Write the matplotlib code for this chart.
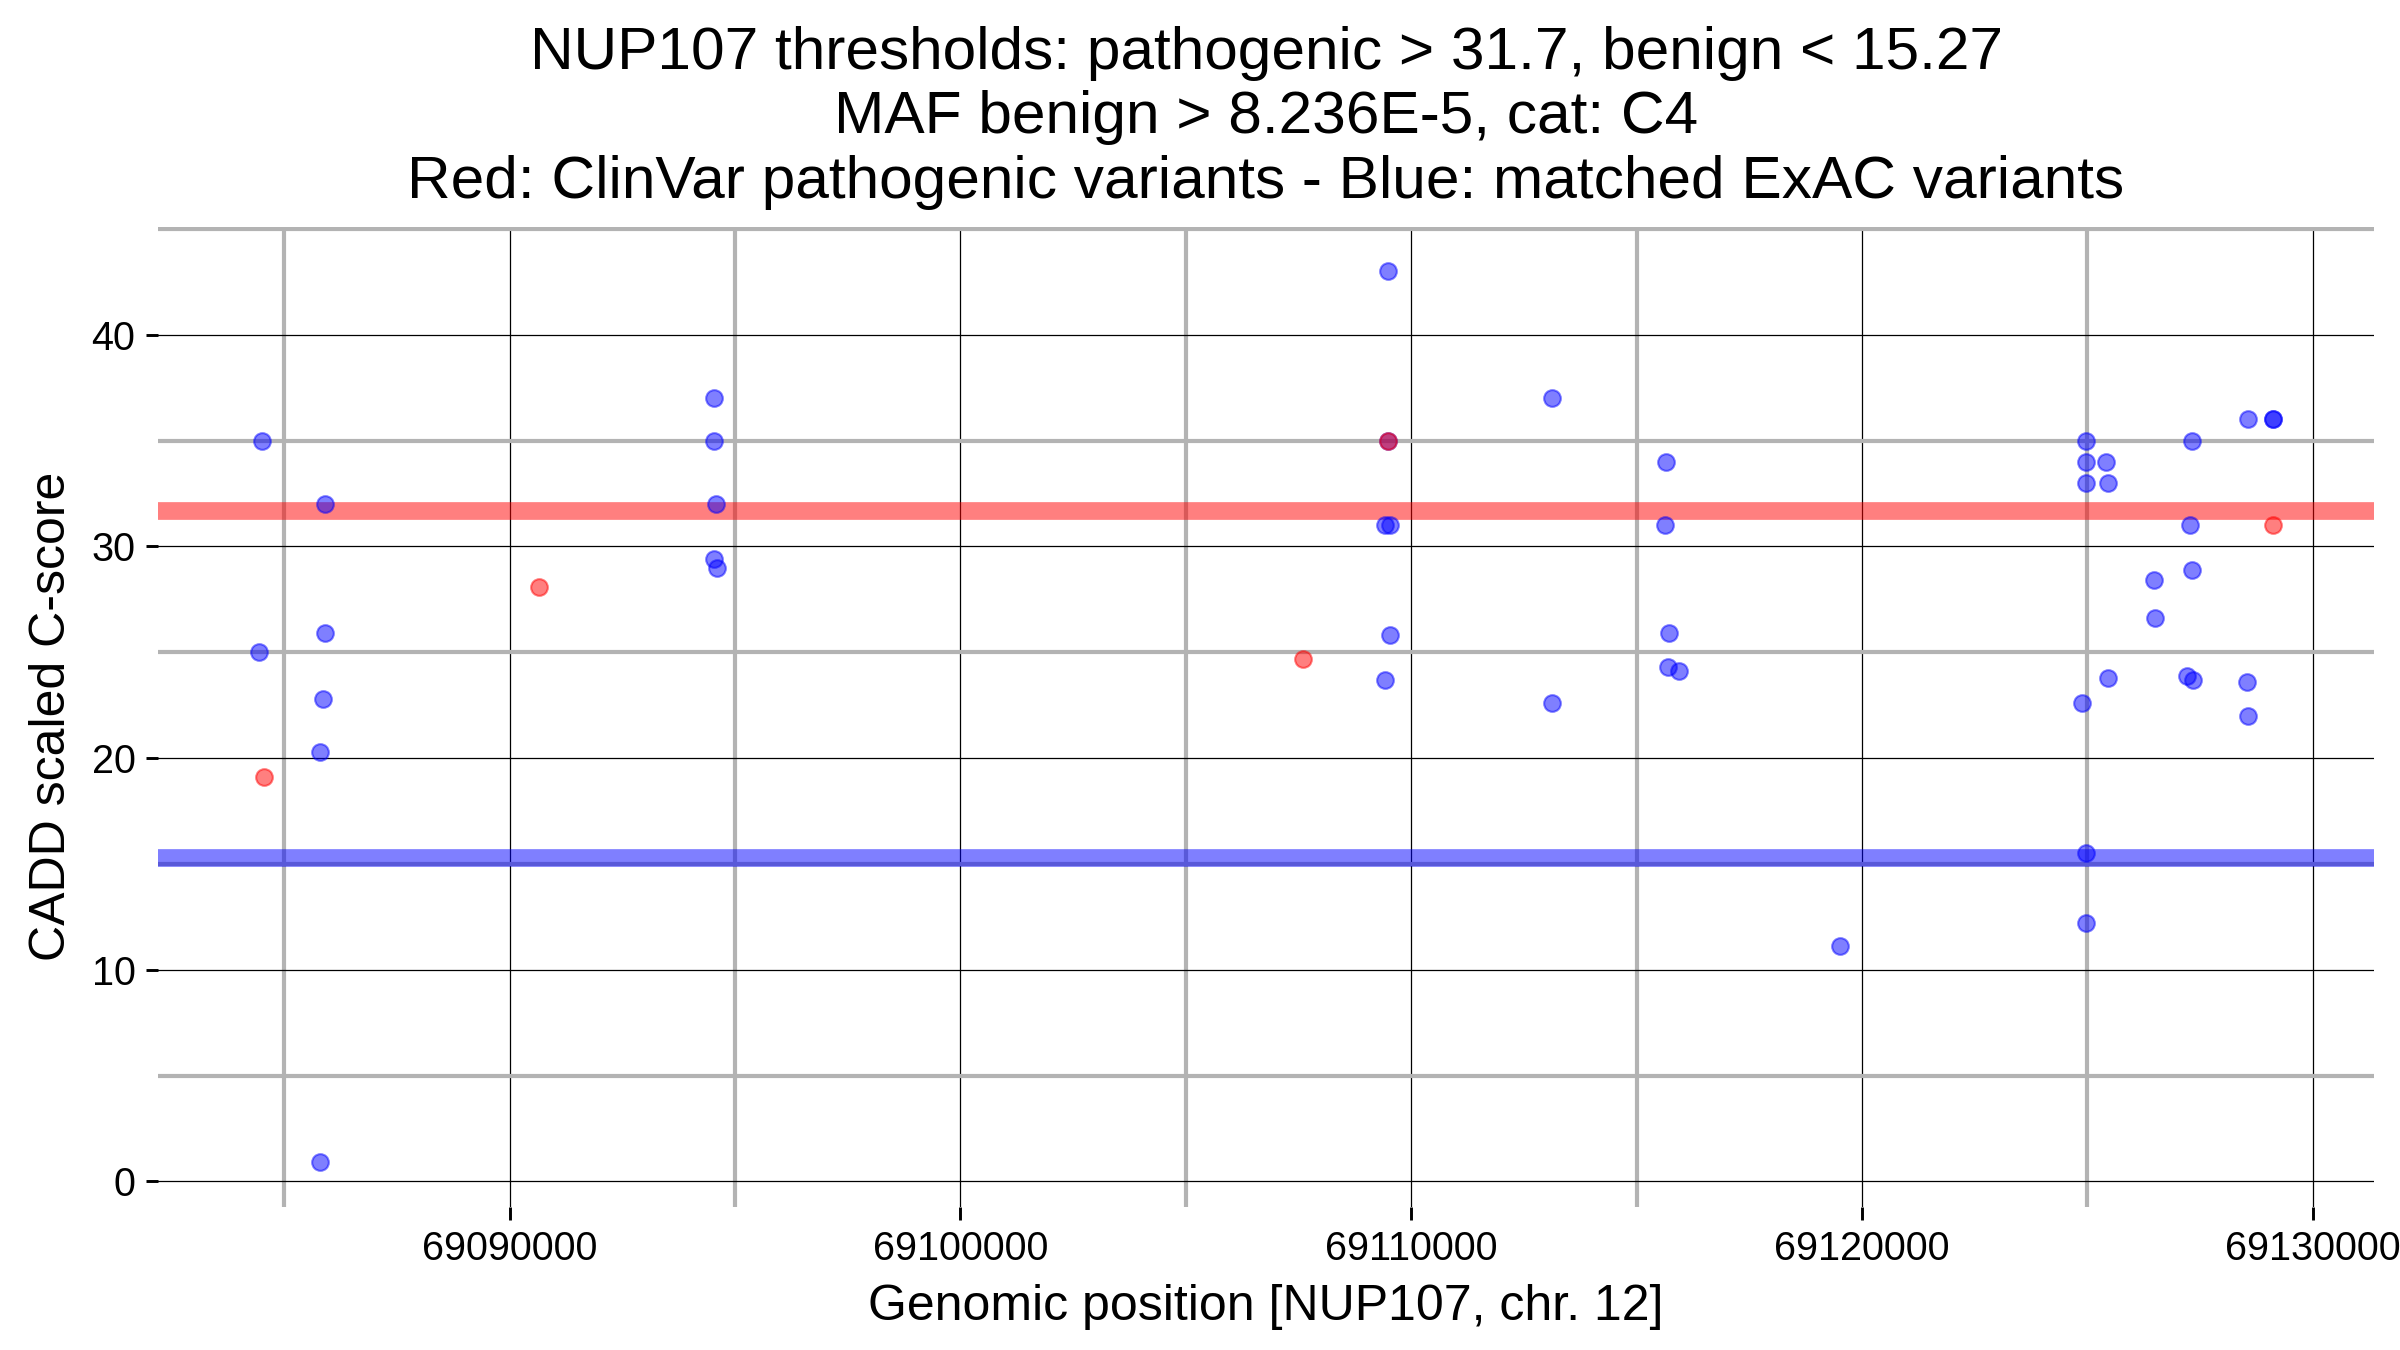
import numpy as np
import matplotlib
matplotlib.use("Agg")
import matplotlib.pyplot as plt
from matplotlib.ticker import MultipleLocator, FuncFormatter

GENE = "NUP107"
CHROM = 12
PATHO_THRESH = 31.7
BENIGN_THRESH = 15.27
MAF_BENIGN = "8.236E-5"
CATEGORY = "C4"

# matched ExAC variants (blue)
exac_pos = [69084508, 69084441, 69085797, 69085797, 69085864, 69085898, 69085898,
            69094542, 69094542, 69094576, 69094542, 69094610,
            69109492, 69109492, 69109424, 69109525, 69109525, 69109424,
            69113119, 69113119,
            69115661, 69115627, 69115729, 69115695, 69115932,
            69119525,
            69124983, 69124983, 69124983, 69125424, 69125458, 69124881,
            69124983, 69124983, 69125458,
            69126475, 69126508,
            69127322, 69127288, 69127322, 69127220, 69127356,
            69128576, 69128542, 69128576, 69129119, 69129119]
exac_cadd = [35.0, 25.0, 0.9, 20.3, 22.8, 25.9, 32.0,
             37.0, 35.0, 32.0, 29.4, 29.0,
             43.0, 35.0, 31.0, 31.0, 25.8, 23.7,
             37.0, 22.6,
             34.0, 31.0, 25.9, 24.3, 24.1,
             11.1,
             35.0, 34.0, 33.0, 34.0, 33.0, 22.6,
             15.5, 12.2, 23.8,
             28.4, 26.6,
             35.0, 31.0, 28.9, 23.9, 23.7,
             36.0, 23.6, 22.0, 36.0, 36.0]

# ClinVar pathogenic variants (red)
clinvar_pos = [69084542, 69090644, 69107593, 69109492, 69129119]
clinvar_cadd = [19.1, 28.1, 24.7, 35.0, 31.0]

plt.rcParams['font.family'] = ['Liberation Sans', 'DejaVu Sans']

fig = plt.figure(figsize=(16, 9), dpi=150)
ax = fig.add_axes([0.066, 0.106, 0.923, 0.726])

ax.scatter(exac_pos, exac_cadd, s=64, color="blue", alpha=0.5,
           linewidths=1, zorder=3)
ax.scatter(clinvar_pos, clinvar_cadd, s=64, color="red", alpha=0.5,
           linewidths=1, zorder=4)

ax.axhline(PATHO_THRESH, color="red", alpha=0.5, linewidth=8.5, zorder=2)
ax.axhline(BENIGN_THRESH, color="blue", alpha=0.5, linewidth=8.5, zorder=2)

ax.xaxis.set_major_locator(MultipleLocator(10000))
ax.xaxis.set_minor_locator(MultipleLocator(5000))
ax.yaxis.set_major_locator(MultipleLocator(10))
ax.yaxis.set_minor_locator(MultipleLocator(5))
ax.xaxis.set_major_formatter(FuncFormatter(lambda v, p: f"{int(round(v))}"))

ax.set_axisbelow(True)
ax.grid(which="major", color="black", linewidth=0.6)
ax.grid(which="minor", color="#b3b3b3", linewidth=2.0)

for s in ax.spines.values():
    s.set_visible(False)

ax.tick_params(which="major", direction="out", length=6, width=1.4,
               labelsize=19, pad=5)
ax.tick_params(which="minor", length=0)

ax.set_xlabel(f"Genomic position [{GENE}, chr. {CHROM}]", fontsize=24, labelpad=8)
ax.set_ylabel("CADD scaled C-score", fontsize=24, labelpad=8)
ax.set_title(f"{GENE} thresholds: pathogenic > {PATHO_THRESH}, benign < {BENIGN_THRESH}\n"
             f"MAF benign > {MAF_BENIGN}, cat: {CATEGORY}\n"
             "Red: ClinVar pathogenic variants - Blue: matched ExAC variants",
             fontsize=29, pad=14, linespacing=1.22)

fig.savefig("out.png", dpi=150)
